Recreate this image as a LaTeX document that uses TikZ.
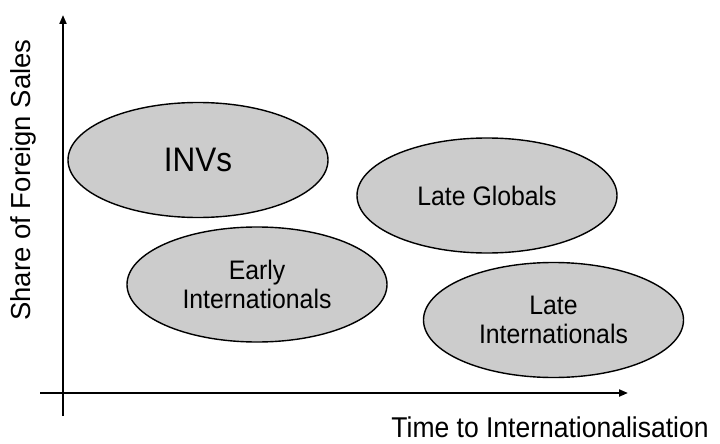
\documentclass[tikz,border=0pt]{standalone}
\usepackage{fontspec}
\setmainfont{Liberation Sans}
\usetikzlibrary{shapes.geometric,arrows.meta}
\newcommand\tallt[1]{\scalebox{1}[1.08]{#1}}
\begin{document}
\begin{tikzpicture}[x=1pt,y=-1pt,
  blob/.style={ellipse,draw=black,line width=1.4pt,fill=black!20,inner sep=0pt,
    minimum width=260pt,minimum height=115pt,align=center,
    font=\fontsize{24.8}{29}\selectfont},
  axis/.style={line width=2pt,-{Triangle[length=9pt,width=7pt]}},
  axlabel/.style={font=\fontsize{26.5}{30}\selectfont,inner sep=0pt}]
\useasboundingbox (0,0) rectangle (720,444);
\coordinate (yb) at (63,416);
\coordinate (yt) at (63,15);
\coordinate (xl) at (40,393);
\coordinate (xr) at (628,393);
\draw[axis] (yb) -- (yt);
\draw[axis] (xl) -- (xr);
\node[blob,font=\fontsize{31.5}{36}\selectfont] (inv) at (198,160) {\tallt{INVs}};
\node[blob] (lg) at (487,195.5) {\tallt{Late Globals}};
\node[blob] (ei) at (257,284.5) {\tallt{Early}\\\tallt{Internationals}};
\node[blob] (li) at (553.5,320) {\tallt{Late}\\\tallt{Internationals}};
\node[axlabel,rotate=90,font=\fontsize{27.5}{30}\selectfont] (ylab) at (23,180) {Share of Foreign Sales};
\node[axlabel,anchor=base] (xlab) at (550,437.5) {\tallt{Time to Internationalisation}};
\end{tikzpicture}
\end{document}
